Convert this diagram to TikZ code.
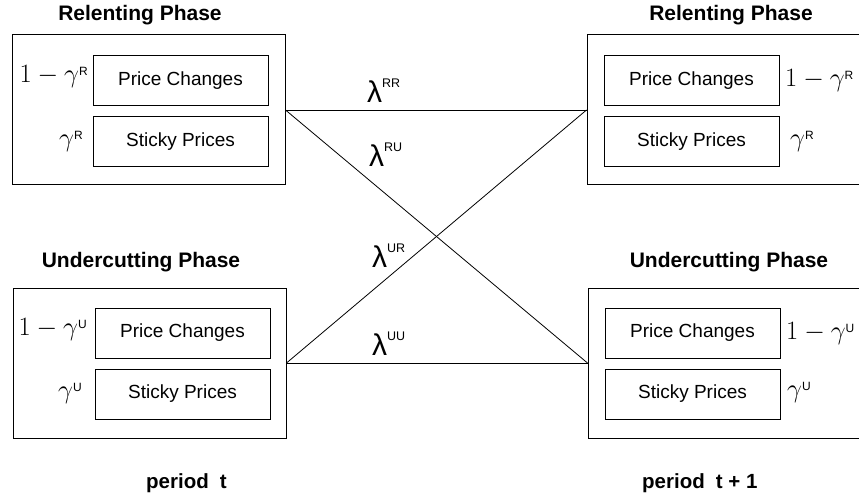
\RequirePackage{fix-cm}
\documentclass[tikz,border=0pt]{standalone}
\usepackage{fontspec}
\setmainfont{Liberation Sans}

% small sans superscript used after gamma and lambda
\newcommand\phsup[3][7pt]{\raisebox{#1}{\fontsize{#2}{#2}\selectfont #3}}

\tikzset{
  panel/.style={draw, line width=1pt, inner sep=0pt, minimum height=150pt},
  cell/.style={draw, line width=1pt, inner sep=0pt, minimum width=175pt,
    minimum height=50pt, font=\fontsize{19}{19}\selectfont},
  title/.style={anchor=base, inner sep=0pt, font=\bfseries\fontsize{21}{21}\selectfont},
  share/.style={inner sep=0pt, font=\fontsize{26.5}{26.5}\selectfont},
  rate/.style={anchor=base west, inner sep=0pt, font=\fontsize{30}{30}\selectfont},
  link/.style={line width=0.8pt},
  periodlabel/.style={anchor=base west, inner sep=0pt, font=\bfseries\fontsize{20.5}{20.5}\selectfont}
}

\begin{document}
\begin{tikzpicture}[x=1pt,y=-1pt]
  \useasboundingbox (0,0) rectangle (859,497);
  \clip (0,0) rectangle (859,497);
  \fill[white] (0,0) rectangle (859,497);

  % phase panels (period t on the left, period t+1 on the right)
  \node[panel, minimum width=273pt] (rt) at (148.5,110) {};
  \node[panel, minimum width=276pt] (rn) at (725,110) {};
  \node[panel, minimum width=273pt] (ut) at (149.5,363) {};
  \node[panel, minimum width=276pt] (un) at (726,363) {};

  % titles
  \node[title] (rtt) at (140,21) {Relenting Phase};
  \node[title] (rnt) at (731,21) {Relenting Phase};
  \node[title] (utt) at (141,267) {Undercutting Phase};
  \node[title] (unt) at (729,267) {Undercutting Phase};

  % price cells
  \node[cell] (rtc) at (180.5,81)  {Price Changes};
  \node[cell] (rts) at (180.5,142) {Sticky Prices};
  \node[cell] (rnc) at (691.5,81)  {Price Changes};
  \node[cell] (rns) at (691.5,142) {Sticky Prices};
  \node[cell] (utc) at (182.5,333) {Price Changes};
  \node[cell] (uts) at (182.5,394) {Sticky Prices};
  \node[cell] (unc) at (692.5,333) {Price Changes};
  \node[cell] (uns) at (692.5,394) {Sticky Prices};

  % shares of firms
  \node[share, anchor=base east] (rtcg) at (88,83)  {$1-\gamma$\phsup{12}{R}};
  \node[share, anchor=base east] (rtsg) at (83,147) {$\gamma$\phsup{12}{R}};
  \node[share, anchor=base west] (rncg) at (785,87) {$1-\gamma$\phsup{12}{R}};
  \node[share, anchor=base west] (rnsg) at (790,147) {$\gamma$\phsup{12}{R}};
  \node[share, anchor=base east] (utcg) at (87,335) {$1-\gamma$\phsup{12}{U}};
  \node[share, anchor=base east] (utsg) at (82,398) {$\gamma$\phsup{12}{U}};
  \node[share, anchor=base west] (uncg) at (786,339) {$1-\gamma$\phsup{12}{U}};
  \node[share, anchor=base west] (unsg) at (787,397) {$\gamma$\phsup{12}{U}};

  % transitions between phases
  \draw[link] (rt.east) -- (rn.west);
  \draw[link] (rt.east) -- (un.west);
  \draw[link] (ut.east) -- (rn.west);
  \draw[link] (ut.east) -- (un.west);

  % transition probabilities
  \node[rate] (lrr) at (367,103) {λ\phsup[15pt]{12.5}{RR}};
  \node[rate] (lru) at (369,167) {λ\phsup[15pt]{12.5}{RU}};
  \node[rate] (lur) at (372,267) {λ\phsup[15pt]{12.5}{UR}};
  \node[rate] (luu) at (372,355) {λ\phsup[15pt]{12.5}{UU}};

  % periods
  \node[periodlabel] (pt)  at (146,488) {period\hspace{11pt}t};
  \node[periodlabel] (pt1) at (642,488) {period\hspace{11pt}t + 1};
\end{tikzpicture}
\end{document}
